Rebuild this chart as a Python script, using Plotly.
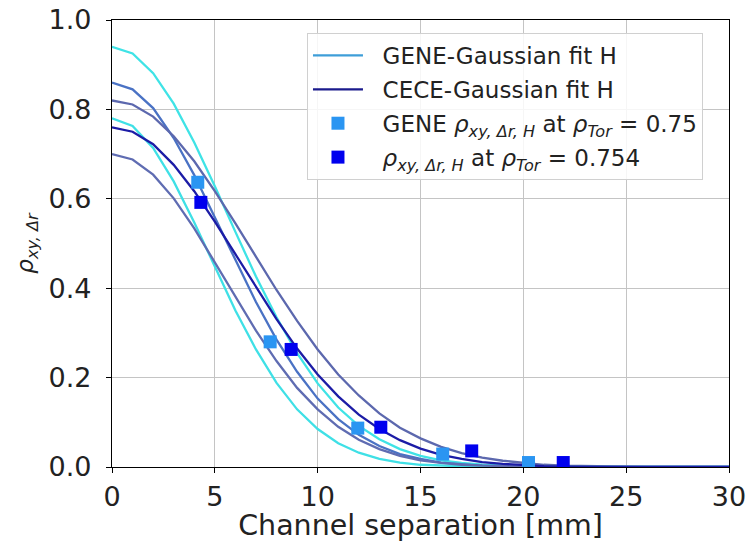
import plotly.graph_objects as go

# Channel separation sample grid for fitted curves [mm]
sep = list(range(0, 31))

# Gaussian fit curves (values at 1 mm steps)
fit_cyan_top = [0.940, 0.925, 0.881, 0.813, 0.726, 0.628, 0.526, 0.426, 0.335, 0.255, 0.187,
                0.133, 0.092, 0.062, 0.040, 0.025, 0.015, 0.009, 0.005, 0.003, 0.001,
                0, 0, 0, 0, 0, 0, 0, 0, 0, 0]
fit_steel = [0.860, 0.845, 0.803, 0.736, 0.653, 0.559, 0.462, 0.369, 0.285, 0.213, 0.153,
             0.107, 0.072, 0.047, 0.029, 0.018, 0.010, 0.006, 0.003, 0.002, 0.001,
             0, 0, 0, 0, 0, 0, 0, 0, 0, 0]
fit_slate = [0.820, 0.811, 0.784, 0.740, 0.684, 0.617, 0.545, 0.470, 0.396, 0.327, 0.263,
             0.207, 0.160, 0.120, 0.088, 0.064, 0.045, 0.031, 0.021, 0.014, 0.009,
             0.005, 0.003, 0.002, 0.001, 0, 0, 0, 0, 0, 0]
fit_cyan_low = [0.780, 0.763, 0.714, 0.639, 0.547, 0.448, 0.350, 0.263, 0.188, 0.129, 0.085,
                0.053, 0.032, 0.018, 0.010, 0.005, 0.003, 0.001, 0, 0, 0,
                0, 0, 0, 0, 0, 0, 0, 0, 0, 0]
fit_cece = [0.760, 0.750, 0.722, 0.676, 0.617, 0.549, 0.476, 0.402, 0.331, 0.265, 0.207,
            0.158, 0.117, 0.085, 0.060, 0.041, 0.027, 0.018, 0.011, 0.007, 0.004,
            0.002, 0.001, 0, 0, 0, 0, 0, 0, 0, 0]
fit_slate_low = [0.700, 0.688, 0.654, 0.601, 0.534, 0.458, 0.380, 0.305, 0.237, 0.177, 0.129,
                 0.090, 0.061, 0.040, 0.025, 0.015, 0.009, 0.005, 0.003, 0.002, 0.001,
                 0, 0, 0, 0, 0, 0, 0, 0, 0, 0]

curves = [
    (fit_cyan_top, "#3fe3e6"),
    (fit_steel, "#4a72c4"),
    (fit_slate, "#5c68ae"),
    (fit_cyan_low, "#3fe0e6"),
    (fit_slate_low, "#5f6cb2"),
    (fit_cece, "#1c1ca6"),
]

# Measured points
gene_x = [4.17, 7.69, 11.95, 16.08, 20.25]
gene_y = [0.637, 0.280, 0.087, 0.029, 0.010]
gene_err = [0.012, 0.010, 0.008, 0.006, 0.005]
cece_x = [4.32, 8.71, 13.07, 17.49, 21.94]
cece_y = [0.592, 0.263, 0.089, 0.036, 0.010]
cece_err = [0.012, 0.010, 0.008, 0.006, 0.005]

x_ticks = [0, 5, 10, 15, 20, 25, 30]
y_ticks = [0.0, 0.2, 0.4, 0.6, 0.8, 1.0]

FONT = "DejaVu Sans"
SP = "\u00a0\u00a0"
fig = go.Figure()

for vals, col in curves:
    fig.add_trace(go.Scatter(x=sep, y=vals, mode="lines",
                             line=dict(color=col, width=2.3),
                             showlegend=False, hoverinfo="skip"))

# legend-only line entries
fig.add_trace(go.Scatter(x=[None], y=[None], mode="lines",
                         line=dict(color="#3e9ed8", width=2.3),
                         name=SP + "GENE-Gaussian fit H", legendgroup="a"))
fig.add_trace(go.Scatter(x=[None], y=[None], mode="lines",
                         line=dict(color="#1a1a8c", width=2.3),
                         name=SP + "CECE-Gaussian fit H", legendgroup="b"))

fig.add_trace(go.Scatter(
    x=gene_x, y=gene_y, mode="markers", legendgroup="c",
    marker=dict(symbol="square", size=13, color="#2a95f2"),
    error_y=dict(type="data", array=gene_err, color="#2a95f2", thickness=2, width=0),
    name=SP + "GENE <i>ρ</i><sub><i>xy, Δr, H</i></sub> at <i>ρ</i><sub><i>Tor</i></sub> = 0.75"))
fig.add_trace(go.Scatter(
    x=cece_x, y=cece_y, mode="markers", legendgroup="d",
    marker=dict(symbol="square", size=13, color="#0000ee"),
    error_y=dict(type="data", array=cece_err, color="#0000ee", thickness=2, width=0),
    name=SP + "<i>ρ</i><sub><i>xy, Δr, H</i></sub> at <i>ρ</i><sub><i>Tor</i></sub> = 0.754"))

axis_common = dict(
    showline=True, linecolor="black", linewidth=1.3, mirror=True,
    ticks="outside", ticklen=5, tickcolor="black", tickwidth=1.2,
    showgrid=True, gridcolor="#c4c4c4", gridwidth=1, zeroline=False,
    tickfont=dict(family=FONT, size=27, color="#222"),
    automargin=False,
)

fig.update_xaxes(range=[0, 30], tickvals=x_ticks, ticktext=[str(v) for v in x_ticks],
                 title=dict(text="Channel separation [mm]",
                            font=dict(family=FONT, size=28.5, color="#222"),
                            standoff=0),
                 **axis_common)
fig.update_yaxes(range=[0, 1.0], tickvals=y_ticks, ticktext=[f"{v:.1f}" for v in y_ticks],
                 ticklabelstandoff=9,
                 title=dict(text="<i>ρ</i><sub><i>xy, Δr</i></sub>",
                            font=dict(family=FONT, size=23, color="#222"),
                            standoff=8),
                 **axis_common)

fig.update_layout(
    width=752, height=542,
    margin=dict(l=112, r=23, t=20, b=75),
    plot_bgcolor="white", paper_bgcolor="white",
    font=dict(family=FONT, color="#222"),
    legend=dict(x=0.316, y=0.971, xanchor="left", yanchor="top",
                bgcolor="rgba(255,255,255,0.85)", bordercolor="#d0d0d0", borderwidth=1,
                font=dict(family=FONT, size=23, color="#222"),
                itemwidth=50, tracegroupgap=1),
)

fig.write_html("out.html")
